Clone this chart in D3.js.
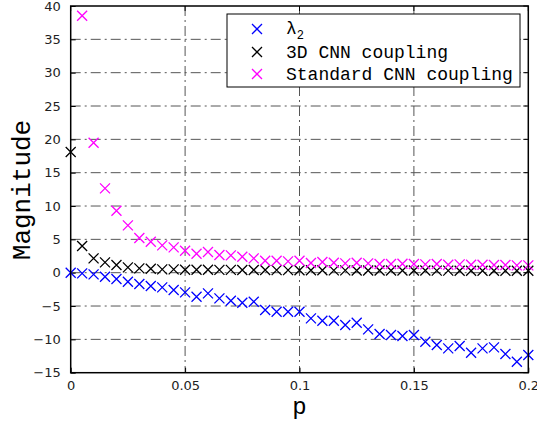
<!DOCTYPE html>
<html>
<head>
<meta charset="utf-8">
<script src="https://cdn.jsdelivr.net/npm/d3@7"></script>
<style>
  body { margin: 0; background: #fff; }
  svg { display: block; }
</style>
</head>
<body>
<svg id="svg" width="537" height="421"></svg>
<script>
// p values (x axis)
const p = [0, 0.005, 0.01, 0.015, 0.02, 0.025, 0.03, 0.035, 0.04, 0.045,
  0.05, 0.055, 0.06, 0.065, 0.07, 0.075, 0.08, 0.085, 0.09, 0.095,
  0.1, 0.105, 0.11, 0.115, 0.12, 0.125, 0.13, 0.135, 0.14, 0.145,
  0.15, 0.155, 0.16, 0.165, 0.17, 0.175, 0.18, 0.185, 0.19, 0.195, 0.2]

// lambda_2
const lambda2 = [0, -0.1, -0.25, -0.6, -0.95, -1.35, -1.7, -2.0, -2.2, -2.6,
  -2.95, -3.6, -3.1, -3.85, -4.2, -4.5, -4.35, -5.6, -5.85, -5.85,
  -5.85, -6.85, -7.2, -7.2, -7.85, -7.5, -8.5, -9.2, -9.35, -9.5,
  -9.35, -10.35, -10.85, -11.35, -11.0, -12.0, -11.35, -11.2, -12.2, -13.35, -12.35]

// 3D CNN coupling
const coupling3d = [18.1, 4.0, 2.15, 1.55, 1.15, 0.8, 0.65, 0.6, 0.5, 0.5,
  0.45, 0.45, 0.45, 0.42, 0.42, 0.4, 0.4, 0.4, 0.38, 0.38,
  0.37, 0.36, 0.36, 0.35, 0.35, 0.34, 0.34, 0.33, 0.33, 0.32,
  0.32, 0.32, 0.31, 0.31, 0.3, 0.3, 0.3, 0.3, 0.29, 0.29, 0.28]

// Standard CNN coupling (first one is off the chart)
const couplingStd = [null, 38.55, 19.5, 12.65, 9.3, 7.1, 5.2, 4.65, 4.1, 3.8,
  3.3, 2.85, 3.1, 2.65, 2.6, 2.4, 2.15, 1.8, 1.8, 1.7,
  1.8, 1.45, 1.6, 1.5, 1.4, 1.5, 1.4, 1.3, 1.3, 1.35,
  1.3, 1.25, 1.3, 1.2, 1.25, 1.2, 1.2, 1.15, 1.15, 1.1, 1.1]

const xTicks = [0, 0.05, 0.1, 0.15, 0.2]
const xTickLabels = ['0', '0.05', '0.1', '0.15', '0.2']
const yTicks = [-15, -10, -5, 0, 5, 10, 15, 20, 25, 30, 35, 40]

const series = [
  { name: 'lambda2', values: lambda2, color: '#0000ff' },
  { name: '3D CNN coupling', values: coupling3d, color: '#000000' },
  { name: 'Standard CNN coupling', values: couplingStd, color: '#ff00ff' }
]

const svg = d3.select('#svg')
const mLeft = 70.7, mRight = 528.3, mTop = 6, mBottom = 372.7

const x = d3.scaleLinear().domain([0, 0.2]).range([mLeft, mRight])
const y = d3.scaleLinear().domain([-15, 40]).range([mBottom, mTop])

svg.append('defs').append('clipPath').attr('id', 'clip')
  .append('rect').attr('x', mLeft - 6).attr('y', mTop).attr('width', mRight - mLeft + 12).attr('height', mBottom - mTop)

// grid (dash-dot)
const grid = svg.append('g').attr('stroke', '#555').attr('stroke-width', 1).attr('stroke-dasharray', '10,4,2,4')
grid.selectAll('.gx').data(xTicks.slice(1, -1)).enter().append('line')
  .attr('x1', d => x(d)).attr('x2', d => x(d)).attr('y1', mTop).attr('y2', mBottom)
grid.selectAll('.gy').data(yTicks.slice(1, -1)).enter().append('line')
  .attr('x1', mLeft).attr('x2', mRight).attr('y1', d => y(d)).attr('y2', d => y(d))

// axes
const tickFont = '"DejaVu Sans", sans-serif'
const xAxis = d3.axisBottom(x).tickValues(xTicks).tickFormat((d, i) => xTickLabels[i]).tickSizeInner(-5).tickSizeOuter(0).tickPadding(8)
const yAxis = d3.axisLeft(y).tickValues(yTicks).tickFormat(d => d < 0 ? '\u2212' + Math.abs(d) : d).tickSizeInner(-5).tickSizeOuter(0).tickPadding(10)

const gx = svg.append('g').attr('transform', `translate(0,${mBottom})`).call(xAxis)
const gy = svg.append('g').attr('transform', `translate(${mLeft},0)`).call(yAxis)
;[gx, gy].forEach(g => {
  g.select('.domain').remove()
  g.selectAll('text').attr('font-family', tickFont).attr('font-size', 13).attr('fill', '#222')
  g.selectAll('line').attr('stroke', '#000')
})
// ticks on top and right
svg.append('g').selectAll('line').data(xTicks).enter().append('line')
  .attr('x1', d => x(d)).attr('x2', d => x(d)).attr('y1', mTop).attr('y2', mTop + 5).attr('stroke', '#000')
svg.append('g').selectAll('line').data(yTicks).enter().append('line')
  .attr('x1', mRight).attr('x2', mRight - 5).attr('y1', d => y(d)).attr('y2', d => y(d)).attr('stroke', '#000')

// markers
const xMark = (g, cx, cy, color) => {
  const r = 5
  g.append('path')
    .attr('d', `M${cx - r},${cy - r}L${cx + r},${cy + r}M${cx - r},${cy + r}L${cx + r},${cy - r}`)
    .attr('stroke', color).attr('stroke-width', 1.3).attr('fill', 'none')
}
const plot = svg.append('g').attr('clip-path', 'url(#clip)')
series.forEach(s => {
  const g = plot.append('g')
  s.values.forEach((v, i) => {
    if (v === null) return
    xMark(g, x(p[i]), y(v), s.color)
  })
})

// box
svg.append('rect').attr('x', mLeft).attr('y', mTop).attr('width', mRight - mLeft).attr('height', mBottom - mTop)
  .attr('fill', 'none').attr('stroke', '#000').attr('stroke-width', 1.5)

// legend
const mono = '"Liberation Mono", "DejaVu Sans Mono", monospace'
const legend = svg.append('g')
legend.append('rect').attr('x', 227).attr('y', 14).attr('width', 293).attr('height', 73)
  .attr('fill', '#fff').attr('stroke', '#000').attr('stroke-width', 1)
const rowY = [29, 52, 74]
series.forEach((s, i) => {
  xMark(legend, 257, rowY[i], s.color)
  const t = legend.append('text').attr('x', 286).attr('y', rowY[i] + 6)
    .attr('font-family', mono).attr('font-size', 18).attr('fill', '#000')
  if (i === 0) {
    t.attr('y', rowY[i] + 5)
    t.append('tspan').text('\u03bb')
    t.append('tspan').attr('dy', 5).attr('font-size', 12).text('2')
  } else {
    t.text(s.name)
  }
})

// axis labels
svg.append('text').attr('x', (mLeft + mRight) / 2).attr('y', 414).attr('text-anchor', 'middle')
  .attr('font-family', mono).attr('font-size', 24).text('p')
svg.append('text').attr('transform', `translate(30,${(117 + 263) / 2}) rotate(-90)`).attr('text-anchor', 'middle')
  .attr('font-family', mono).attr('font-size', 26).text('Magnitude')
</script>
</body>
</html>
